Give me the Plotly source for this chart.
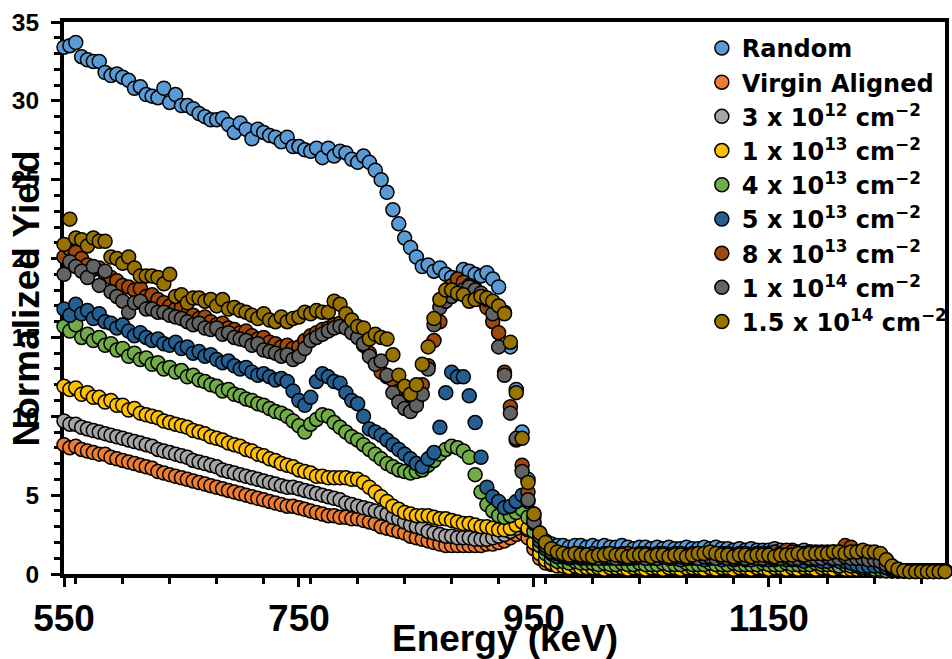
import plotly.graph_objects as go

# Detector channel energies (keV)
energy_kev = [
    550, 555, 560, 565, 570, 575, 580, 585, 590, 595,
    600, 605, 610, 615, 620, 625, 630, 635, 640, 645,
    650, 655, 660, 665, 670, 675, 680, 685, 690, 695,
    700, 705, 710, 715, 720, 725, 730, 735, 740, 745,
    750, 755, 760, 765, 770, 775, 780, 785, 790, 795,
    800, 805, 810, 815, 820, 825, 830, 835, 840, 845,
    850, 855, 860, 865, 870, 875, 880, 885, 890, 895,
    900, 905, 910, 915, 920, 925, 930, 935, 940, 945,
    950, 955, 960, 965, 970, 975, 980, 985, 990, 995,
    1000, 1005, 1010, 1015, 1020, 1025, 1030, 1035, 1040, 1045,
    1050, 1055, 1060, 1065, 1070, 1075, 1080, 1085, 1090, 1095,
    1100, 1105, 1110, 1115, 1120, 1125, 1130, 1135, 1140, 1145,
    1150, 1155, 1160, 1165, 1170, 1175, 1180, 1185, 1190, 1195,
    1200, 1205, 1210, 1215, 1220, 1225, 1230, 1235, 1240, 1245,
    1250, 1255, 1260, 1265, 1270, 1275, 1280, 1285, 1290, 1295,
    1300,
]

random_yield = [
    33.4, 33.5, 33.7, 32.8, 32.6, 32.5, 32.5, 31.8, 31.6, 31.7,
    31.5, 31.3, 30.8, 30.9, 30.4, 30.3, 30.2, 30.8, 29.9, 30.4,
    29.7, 29.7, 29.5, 29.2, 29.0, 28.8, 28.8, 28.9, 28.5, 28.0,
    28.6, 28.2, 27.6, 28.2, 28.0, 27.8, 27.7, 27.4, 27.7, 27.1,
    27.1, 26.9, 26.8, 27.0, 26.4, 27.0, 26.5, 26.8, 26.7, 26.3,
    26.1, 26.5, 26.1, 25.6, 25.0, 24.2, 23.1, 22.2, 21.3, 20.7,
    20.1, 19.5, 19.6, 19.2, 19.4, 19.0, 18.8, 18.7, 19.3, 19.2,
    19.0, 18.9, 19.1, 18.7, 18.2, 16.6, 14.4, 11.7, 9.0, 6.0,
    3.8, 2.6, 2.1, 1.9, 1.8, 1.8, 1.7, 1.8, 1.8, 1.7,
    1.8, 1.7, 1.8, 1.7, 1.7, 1.8, 1.7, 1.6, 1.7, 1.7,
    1.6, 1.7, 1.6, 1.7, 1.6, 1.6, 1.7, 1.6, 1.6, 1.7,
    1.6, 1.7, 1.6, 1.6, 1.5, 1.6, 1.5, 1.6, 1.5, 1.5,
    1.5, 1.6, 1.5, 1.4, 1.5, 1.4, 1.5, 1.4, 1.4, 1.4,
    1.3, 1.4, 1.3, 1.3, 1.3, 1.2, 1.2, 1.1, 1.0, 0.8,
    0.5, 0.3, 0.2, 0.2, 0.2, 0.2, 0.2, 0.2, 0.2, 0.2,
    0.2,
]

virgin_aligned = [
    8.2, 8.0, 8.1, 7.9, 7.8, 7.7, 7.6, 7.6, 7.4, 7.3,
    7.2, 7.1, 7.0, 6.9, 6.8, 6.7, 6.5, 6.4, 6.3, 6.2,
    6.1, 6.0, 5.9, 5.8, 5.7, 5.6, 5.5, 5.4, 5.3, 5.2,
    5.1, 5.0, 4.9, 4.8, 4.7, 4.6, 4.5, 4.4, 4.3, 4.3,
    4.2, 4.1, 4.0, 3.9, 3.8, 3.7, 3.7, 3.6, 3.6, 3.5,
    3.5, 3.4, 3.3, 3.2, 3.0, 2.9, 2.8, 2.7, 2.6, 2.4,
    2.3, 2.2, 2.1, 2.0, 1.9, 1.8, 1.8, 1.8, 1.8, 1.8,
    1.8, 1.8, 1.9, 1.9, 2.0, 2.1, 2.3, 2.5, 2.6, 2.3,
    1.6, 1.0, 0.7, 0.6, 0.6, 0.5, 0.6, 0.5, 0.5, 0.6,
    0.5, 0.6, 0.5, 0.5, 0.6, 0.5, 0.5, 0.6, 0.5, 0.5,
    0.5, 0.6, 0.5, 0.5, 0.5, 0.6, 0.5, 0.5, 0.5, 0.6,
    0.5, 0.5, 0.6, 0.5, 0.5, 0.5, 0.6, 0.5, 0.5, 0.5,
    0.6, 0.5, 0.5, 0.5, 0.6, 0.5, 0.5, 0.5, 0.5, 0.6,
    0.5, 0.5, 0.5, 0.6, 0.5, 0.5, 0.5, 0.4, 0.4, 0.3,
    0.3, 0.2, 0.2, 0.2, 0.2, 0.2, 0.2, 0.2, 0.2, 0.2,
    0.2,
]

dose_3e12 = [
    9.7, 9.5, 9.5, 9.3, 9.2, 9.1, 9.0, 8.9, 8.8, 8.7,
    8.6, 8.5, 8.4, 8.3, 8.2, 8.1, 7.9, 7.8, 7.7, 7.6,
    7.5, 7.4, 7.2, 7.1, 7.0, 6.9, 6.8, 6.6, 6.5, 6.4,
    6.3, 6.2, 6.1, 6.0, 5.9, 5.8, 5.7, 5.6, 5.5, 5.5,
    5.4, 5.3, 5.2, 5.1, 5.0, 4.9, 4.8, 4.7, 4.5, 4.4,
    4.3, 4.2, 4.1, 4.0, 3.9, 3.8, 3.6, 3.5, 3.3, 3.1,
    3.0, 2.9, 2.7, 2.6, 2.5, 2.4, 2.4, 2.3, 2.3, 2.3,
    2.2, 2.2, 2.2, 2.3, 2.4, 2.5, 2.7, 2.9, 3.1, 2.8,
    2.0, 1.4, 1.0, 0.8, 0.8, 0.7, 0.7, 0.8, 0.7, 0.7,
    0.7, 0.6, 0.7, 0.7, 0.6, 0.7, 0.7, 0.6, 0.7, 0.7,
    0.6, 0.7, 0.7, 0.6, 0.7, 0.6, 0.7, 0.7, 0.6, 0.7,
    0.7, 0.6, 0.7, 0.6, 0.7, 0.7, 0.6, 0.7, 0.6, 0.7,
    0.6, 0.7, 0.6, 0.7, 0.6, 0.6, 0.7, 0.6, 0.6, 0.7,
    0.6, 0.6, 0.7, 0.6, 0.6, 0.6, 0.5, 0.5, 0.4, 0.4,
    0.3, 0.2, 0.2, 0.2, 0.2, 0.2, 0.2, 0.2, 0.2, 0.2,
    0.2,
]

dose_1e13 = [
    11.9, 11.7, 11.8, 11.4, 11.5, 11.2, 11.2, 10.9, 11.0, 10.7,
    10.7, 10.4, 10.5, 10.2, 10.1, 10.0, 9.9, 9.7, 9.6, 9.5,
    9.4, 9.3, 9.1, 9.0, 8.9, 8.7, 8.6, 8.5, 8.3, 8.2,
    8.1, 7.9, 7.8, 7.6, 7.5, 7.3, 7.2, 7.0, 6.9, 6.8,
    6.6, 6.5, 6.4, 6.2, 6.2, 6.1, 6.1, 6.1, 6.1, 6.0,
    6.0, 5.8, 5.5, 5.2, 4.9, 4.6, 4.3, 4.1, 3.9, 3.8,
    3.7, 3.7, 3.7, 3.6, 3.5, 3.5, 3.4, 3.3, 3.2, 3.2,
    3.1, 3.0, 3.0, 2.9, 2.8, 2.8, 2.9, 3.1, 3.3, 2.9,
    2.0, 1.3, 0.9, 0.7, 0.5, 0.5, 0.4, 0.5, 0.4, 0.4,
    0.4, 0.4, 0.3, 0.4, 0.4, 0.4, 0.3, 0.4, 0.4, 0.3,
    0.4, 0.4, 0.3, 0.4, 0.4, 0.3, 0.4, 0.4, 0.4, 0.3,
    0.4, 0.3, 0.4, 0.4, 0.3, 0.4, 0.4, 0.3, 0.4, 0.4,
    0.3, 0.4, 0.4, 0.3, 0.4, 0.3, 0.4, 0.4, 0.3, 0.4,
    0.4, 0.3, 0.4, 0.3, 0.3, 0.3, 0.3, 0.3, 0.2, 0.2,
    0.2, 0.2, 0.2, 0.2, 0.2, 0.2, 0.2, 0.2, 0.2, 0.2,
    0.2,
]

dose_4e13 = [
    15.7, 15.4, 15.8, 15.0, 15.2, 14.8, 15.0, 14.5, 14.6, 14.2,
    14.3, 13.8, 14.0, 13.6, 13.7, 13.3, 13.4, 13.0, 13.1, 12.8,
    12.9, 12.5, 12.6, 12.3, 12.2, 12.0, 11.9, 11.6, 11.7, 11.4,
    11.3, 11.1, 11.0, 10.8, 10.7, 10.5, 10.3, 10.2, 10.0, 9.7,
    9.4, 9.0, 9.5, 9.8, 10.1, 10.0, 9.6, 9.3, 9.0, 8.7,
    8.5, 8.2, 7.9, 7.6, 7.3, 7.0, 6.8, 6.6, 6.5, 6.4,
    6.5, 6.6, 6.9, 7.2, 7.6, 7.9, 8.1, 8.0, 7.8, 7.4,
    6.3, 5.2, 4.4, 4.0, 3.7, 3.6, 3.7, 3.9, 4.1, 3.6,
    2.7, 1.8, 1.3, 1.0, 0.8, 0.8, 0.7, 0.8, 0.7, 0.7,
    0.7, 0.6, 0.7, 0.6, 0.6, 0.7, 0.6, 0.6, 0.7, 0.6,
    0.6, 0.6, 0.7, 0.6, 0.6, 0.6, 0.7, 0.6, 0.6, 0.6,
    0.7, 0.6, 0.6, 0.6, 0.7, 0.6, 0.6, 0.6, 0.6, 0.7,
    0.6, 0.6, 0.6, 0.7, 0.6, 0.6, 0.6, 0.6, 0.7, 0.6,
    0.6, 0.6, 0.5, 0.6, 0.5, 0.5, 0.4, 0.4, 0.3, 0.3,
    0.2, 0.2, 0.2, 0.2, 0.2, 0.2, 0.2, 0.2, 0.2, 0.2,
    0.2,
]

dose_5e13 = [
    16.8, 16.4, 17.1, 16.5, 16.7, 16.2, 16.5, 16.0, 15.9, 15.6,
    15.8, 15.4, 15.1, 15.3, 15.0, 14.8, 14.9, 14.6, 14.5, 14.7,
    14.3, 14.4, 14.0, 14.1, 13.8, 13.9, 13.6, 13.4, 13.5, 13.2,
    13.0, 13.1, 12.8, 12.6, 12.7, 12.5, 12.3, 12.4, 12.2, 11.6,
    11.0, 10.7, 11.2, 12.2, 12.7, 12.5, 12.2, 12.1, 11.5, 11.0,
    10.8, 10.0, 9.2, 9.0, 8.8, 8.5, 8.2, 7.9, 7.6, 7.3,
    7.0, 6.8, 7.3, 7.7, 9.3, 11.5, 12.8, 12.5, 12.5, 11.3,
    9.6, 7.4, 5.5, 4.9, 4.6, 4.2, 4.3, 4.6, 5.0, 4.6,
    3.2, 2.1, 1.6, 1.3, 1.1, 1.1, 1.0, 1.1, 1.0, 1.0,
    1.0, 1.1, 1.0, 1.0, 1.1, 1.0, 1.0, 1.0, 1.1, 1.0,
    1.0, 1.0, 1.1, 1.0, 1.0, 0.9, 1.0, 1.0, 1.0, 0.9,
    1.0, 1.0, 0.9, 1.0, 0.9, 1.0, 0.9, 0.9, 1.0, 0.9,
    0.9, 0.9, 1.0, 0.9, 0.9, 0.9, 0.8, 0.9, 0.9, 0.8,
    0.8, 0.9, 0.8, 0.8, 0.7, 0.6, 0.5, 0.5, 0.5, 0.5,
    0.4, 0.3, 0.2, 0.2, 0.2, 0.2, 0.2, 0.2, 0.2, 0.2,
    0.2,
]

dose_8e13 = [
    20.1, 20.6, 20.4, 20.0, 19.6, 19.3, 19.4, 19.0, 18.8, 18.6,
    18.3, 18.2, 18.0, 18.1, 17.6, 17.7, 17.4, 17.2, 17.0, 16.8,
    16.9, 16.5, 16.4, 16.2, 16.3, 16.0, 15.8, 15.9, 15.6, 15.5,
    15.3, 15.4, 15.1, 14.9, 15.0, 14.7, 14.6, 14.4, 14.5, 14.3,
    14.4, 14.8, 15.1, 15.3, 15.5, 15.6, 15.8, 15.9, 15.7, 15.4,
    15.1, 14.5, 14.0, 13.4, 12.8, 12.5, 12.3, 11.6, 11.0, 10.6,
    10.9, 12.0, 13.2, 14.8, 16.0, 17.6, 18.3, 18.7, 18.5, 18.3,
    18.1, 17.4, 16.9, 16.0, 15.3, 12.8, 10.6, 8.5, 6.9, 5.2,
    3.6, 2.5, 1.9, 1.5, 1.3, 1.3, 1.2, 1.3, 1.3, 1.2,
    1.3, 1.2, 1.3, 1.3, 1.2, 1.3, 1.3, 1.2, 1.3, 1.3,
    1.2, 1.3, 1.3, 1.2, 1.3, 1.3, 1.2, 1.3, 1.2, 1.3,
    1.3, 1.2, 1.3, 1.3, 1.2, 1.3, 1.3, 1.2, 1.3, 1.3,
    1.3, 1.4, 1.3, 1.5, 1.4, 1.3, 1.3, 1.4, 1.3, 1.3,
    1.4, 1.3, 1.4, 1.8, 1.7, 1.4, 1.4, 1.3, 1.3, 1.2,
    0.9, 0.5, 0.3, 0.2, 0.2, 0.2, 0.2, 0.2, 0.2, 0.2,
    0.2,
]

dose_1e14 = [
    19.0, 19.8, 19.5, 19.2, 18.8, 19.5, 18.3, 19.2, 17.9, 17.6,
    17.3, 16.6, 17.2, 17.3, 16.8, 16.8, 16.6, 16.6, 16.4, 16.3,
    16.2, 16.0, 15.8, 15.9, 15.6, 15.5, 15.6, 15.2, 15.3, 15.0,
    14.9, 14.8, 14.5, 14.6, 14.2, 14.1, 14.0, 13.8, 13.9, 13.6,
    13.8, 14.3, 14.8, 15.0, 15.2, 15.4, 15.6, 15.7, 15.6, 15.3,
    15.0, 14.6, 13.8, 13.3, 13.5, 12.6, 11.5, 10.9, 10.5, 10.3,
    10.7, 11.4, 13.0, 15.8, 16.9, 17.3, 17.6, 17.8, 18.0, 18.2,
    18.0, 17.8, 17.4, 16.5, 14.4, 12.6, 10.2, 8.6, 6.5, 4.7,
    3.3, 2.4, 1.8, 1.4, 1.3, 1.2, 1.1, 1.2, 1.1, 1.1,
    1.1, 1.0, 1.1, 1.1, 1.0, 1.1, 1.0, 1.1, 1.1, 1.0,
    1.1, 1.0, 1.1, 1.0, 1.1, 1.1, 1.0, 1.1, 1.0, 1.1,
    1.1, 1.0, 1.1, 1.0, 1.0, 1.1, 1.0, 1.1, 1.0, 1.0,
    1.1, 1.0, 1.0, 1.1, 1.0, 1.0, 1.1, 1.0, 1.0, 1.0,
    1.1, 1.0, 1.0, 1.1, 1.0, 1.0, 1.0, 0.9, 0.9, 0.8,
    0.6, 0.4, 0.2, 0.2, 0.2, 0.2, 0.2, 0.2, 0.2, 0.2,
    0.2,
]

dose_1p5e14 = [
    20.9, 22.5, 21.3, 21.2, 20.8, 21.3, 21.1, 21.1, 20.1, 20.0,
    19.7, 20.1, 19.4, 18.9, 18.9, 18.9, 18.8, 18.4, 19.0, 17.6,
    17.7, 17.2, 17.5, 17.5, 17.3, 17.4, 17.0, 17.4, 16.8, 16.9,
    16.7, 16.6, 16.4, 16.2, 16.5, 16.1, 16.0, 16.3, 16.0, 16.2,
    16.3, 16.6, 16.5, 16.7, 16.6, 16.6, 17.3, 17.1, 16.5, 16.1,
    15.7, 15.6, 14.9, 15.2, 15.0, 14.9, 13.9, 12.6, 11.9, 11.4,
    12.0, 13.3, 14.4, 16.2, 17.4, 18.0, 18.0, 17.8, 17.7, 17.3,
    17.4, 17.6, 17.5, 17.3, 17.0, 16.5, 14.7, 11.5, 8.6, 5.8,
    3.8, 2.6, 2.0, 1.6, 1.4, 1.3, 1.2, 1.3, 1.2, 1.2,
    1.1, 1.2, 1.2, 1.3, 1.2, 1.2, 1.1, 1.2, 1.2, 1.2,
    1.1, 1.2, 1.2, 1.1, 1.2, 1.2, 1.1, 1.2, 1.3, 1.3,
    1.4, 1.3, 1.2, 1.2, 1.1, 1.2, 1.2, 1.1, 1.2, 1.2,
    1.2, 1.1, 1.2, 1.2, 1.2, 1.3, 1.2, 1.3, 1.3, 1.3,
    1.3, 1.4, 1.4, 1.3, 1.4, 1.4, 1.5, 1.4, 1.4, 1.3,
    0.9, 0.5, 0.3, 0.2, 0.15, 0.15, 0.15, 0.15, 0.15, 0.15,
    0.15,
]

series_names = [
    "Random",
    "Virgin Aligned",
    "3 x 10<sup>12</sup> cm<sup>\u22122</sup>",
    "1 x 10<sup>13</sup> cm<sup>\u22122</sup>",
    "4 x 10<sup>13</sup> cm<sup>\u22122</sup>",
    "5 x 10<sup>13</sup> cm<sup>\u22122</sup>",
    "8 x 10<sup>13</sup> cm<sup>\u22122</sup>",
    "1 x 10<sup>14</sup> cm<sup>\u22122</sup>",
    "1.5 x 10<sup>14</sup> cm<sup>\u22122</sup>",
]
series_values = [
    random_yield, virgin_aligned, dose_3e12, dose_1e13, dose_4e13,
    dose_5e13, dose_8e13, dose_1e14, dose_1p5e14,
]
series_colors = [
    "#5B9BD5", "#ED7D31", "#A5A5A5", "#FFC000", "#70AD47",
    "#255E91", "#9E480E", "#636363", "#997300",
]

fig = go.Figure()
for name, values, color in zip(series_names, series_values, series_colors):
    fig.add_trace(go.Scatter(
        x=energy_kev, y=values, mode="markers", name=name,
        cliponaxis=False,
        marker=dict(size=14, color=color, line=dict(color="black", width=1.5)),
    ))

axis_font = "Liberation Sans, Arial, sans-serif"
common_axis = dict(
    showline=True, linecolor="black", linewidth=4, mirror=True,
    ticks="outside", tickcolor="black", tickwidth=3,
    showgrid=False, zeroline=False, layer="below traces",
)

fig.update_xaxes(
    range=[550, 1300], tick0=550, dtick=200, ticklen=9,
    tickfont=dict(family=axis_font, size=37, color="black", weight="bold"),
    minor=dict(dtick=40, ticks="outside", ticklen=6, tickwidth=3, tickcolor="black"),
    **common_axis,
)
fig.update_yaxes(
    range=[0, 35], dtick=5, ticklen=9, ticklabelstandoff=7,
    tickfont=dict(family=axis_font, size=24.5, color="black", weight="bold"),
    minor=dict(dtick=1, ticks="outside", ticklen=6, tickwidth=3, tickcolor="black"),
    **common_axis,
)

fig.update_layout(
    width=952, height=659,
    margin=dict(l=64, r=7, t=22, b=85, autoexpand=False),
    paper_bgcolor="white", plot_bgcolor="white",
    showlegend=True,
    legend=dict(
        x=0.724, y=0.993, xanchor="left", yanchor="top",
        bgcolor="rgba(0,0,0,0)", borderwidth=0,
        font=dict(family="DejaVu Sans", size=24, color="black", weight="bold"),
    ),
    annotations=[
        dict(text="Energy (keV)", xref="paper", yref="paper", x=0.5, y=-0.116,
             xanchor="center", yanchor="middle", showarrow=False,
             font=dict(family=axis_font, size=37, color="black", weight="bold")),
        dict(text="Normalized Yield", xref="paper", yref="paper", x=-0.0426, y=0.5,
             xanchor="center", yanchor="middle", showarrow=False, textangle=-90,
             font=dict(family=axis_font, size=37, color="black", weight="bold")),
    ],
)

fig.write_html("out.html")
